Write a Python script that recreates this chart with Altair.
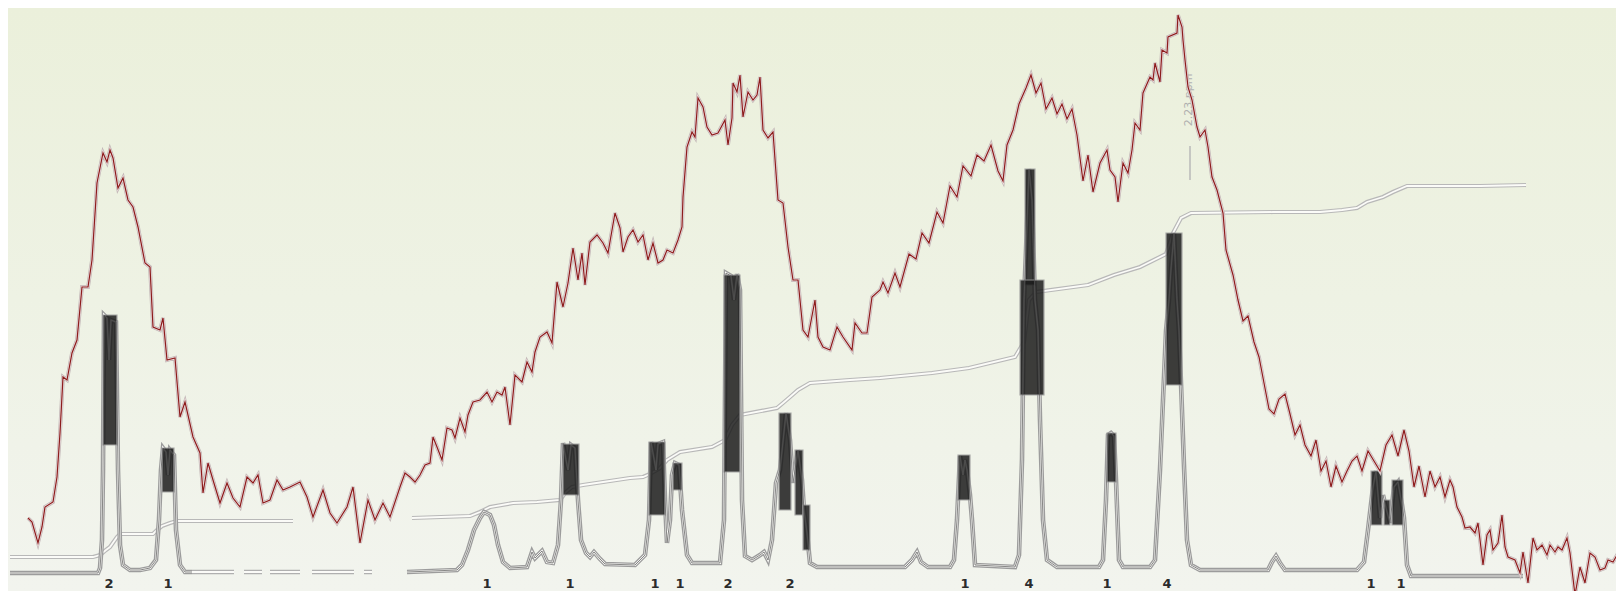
import altair as alt
import pandas as pd

# ---- data (x = column position, y = row position) ----
RED = [(28,518),(32,522),(38,543),(42,527),(45,507),(53,502),(57,477),(60,433),(63,377),(67,380),
       (72,353),(77,340),(82,287),(88,287),(92,260),(97,183),(103,153),(107,162),(110,150),(113,158),
       (118,188),(123,178),(128,200),(133,207),(138,227),(145,263),(150,267),(153,327),(160,330),(163,318),
       (167,360),(175,358),(180,417),(185,402),(193,437),(200,453),(203,493),(208,463),(213,480),(220,503),
       (227,483),(233,498),(240,507),(247,477),(253,483),(258,475),(263,503),(270,500),(277,480),(283,490),
       (290,487),(300,482),(307,497),(313,517),(323,490),(330,513),(337,523),(347,507),(353,487),(360,543),
       (368,500),(375,520),(383,503),(390,517),(400,487),(405,473),(410,477),(415,482),(420,475),(425,465),
       (430,463),(433,437),(437,447),(442,460),(447,428),(452,430),(455,438),(460,418),(465,432),(468,415),
       (473,402),(480,400),(487,392),(492,402),(497,392),(502,395),(505,387),(510,425),(515,375),(522,382),
       (527,362),(532,372),(535,352),(540,337),(547,332),(552,343),(557,282),(563,307),(568,283),(573,248),
       (578,280),(582,253),(585,285),(590,242),(597,235),(603,243),(608,253),(615,213),(620,228),(623,252),
       (628,237),(633,230),(638,242),(643,235),(648,260),(653,243),(658,263),(663,260),(667,250),(673,253),
       (678,240),(682,227),(683,197),(687,147),(692,132),(695,137),(698,98),(703,107),(707,127),(712,135),
       (718,133),(725,120),(728,145),(732,118),(733,83),(737,92),(740,75),(743,117),(748,92),(753,100),
       (757,95),(760,77),(763,130),(768,138),(773,132),(778,200),(783,203),(788,247),(793,280),(798,280),
       (803,330),(808,337),(815,300),(818,337),(823,347),(830,350),(837,327),(843,337),(852,350),(855,323),
       (862,333),(867,333),(872,297),(880,290),(883,282),(888,293),(895,273),(900,287),(909,254),(916,259),
       (922,233),(929,243),(937,212),(943,223),(950,186),(957,197),(963,166),(971,176),(977,155),(984,161),
       (991,145),(998,171),(1003,181),(1007,145),(1013,130),(1019,104),(1026,88),(1031,75),(1036,93),(1041,83),
       (1046,109),(1052,98),(1057,114),(1062,104),(1067,119),(1072,109),(1077,135),(1083,181),(1088,155),(1093,192),
       (1100,163),(1107,150),(1110,170),(1115,177),(1118,202),(1123,163),(1128,173),(1132,150),(1135,123),(1140,130),
       (1143,93),(1150,77),(1153,80),(1155,63),(1160,82),(1162,50),(1167,53),(1168,37),(1177,33),(1178,15),
       (1182,27),(1183,40),(1185,60),(1188,87),(1192,100),(1197,127),(1200,137),(1205,130),(1208,147),(1212,177),
       (1217,190),(1223,213),(1226,250),(1233,275),(1238,300),(1243,321),(1248,316),(1254,342),(1259,357),(1264,383),
       (1269,409),(1274,414),(1279,399),(1285,394),(1290,414),(1295,435),(1300,425),(1305,445),(1311,456),(1316,440),
       (1321,471),(1326,461),(1331,487),(1336,466),(1342,482),(1347,471),(1352,461),(1357,456),(1362,471),(1368,451),
       (1374,461),(1380,471),(1386,445),(1392,435),(1398,456),(1404,430),(1409,451),(1414,487),(1419,466),(1425,497),
       (1430,471),(1435,487),(1440,477),(1445,497),(1450,480),(1453,487),(1457,507),(1462,517),(1465,528),(1470,527),
       (1475,533),(1478,523),(1483,565),(1487,535),(1490,530),(1493,550),(1498,543),(1502,515),(1505,547),(1508,557),
       (1515,560),(1520,573),(1523,552),(1528,583),(1533,538),(1537,550),(1542,545),(1547,555),(1550,545),(1555,552),
       (1558,547),(1562,550),(1567,538),(1570,553),(1575,595),(1580,567),(1585,583),(1590,553),(1595,557),(1600,570),
       (1605,568),(1608,560),(1613,562),(1620,550),(1623,557)]

SPEC_LEFT = [(10,573),(98,573),(100,568),(102,540),(103,470),(104,315),(107,318),(109,360),(111,320),
             (116,322),(118,470),(120,545),(123,565),(130,570),(140,570),(150,568),(156,560),(159,520),
             (161,470),(163,448),(166,452),(168,475),(170,450),(174,455),(176,530),(180,565),(185,572),(192,572)]

SPEC_DASH = [(192,572),(372,572)]

SPEC_MID = [(407,572),(457,570),(462,565),(468,550),(474,530),(480,518),(484,512),(490,515),(494,525),
            (498,545),(503,562),(510,568),(527,567),(532,552),(535,558),(537,556),(542,551),(547,562),
            (553,563),(558,545),(561,500),(563,443),(566,460),(568,470),(571,445),(575,448),(578,500),
            (581,540),(586,553),(590,557),(594,552),(600,559),(605,564),(635,565),(645,555),(649,520),
            (651,442),(656,470),(658,444),(663,442),(665,500),(667,543),(670,520),(672,475),(675,463),
            (679,465),(682,510),(687,555),(692,563),(720,563),(724,520),(726,273),(731,276),(734,300),
            (737,274),(740,290),(742,500),(745,556),(752,560),(760,555),(764,552),(768,560),(772,540),
            (776,483),(780,470),(786,413),(790,440),(793,483),(798,450),(802,480),(804,510),(807,533),
            (810,563),(817,567),(880,567)]

SPEC_RIGHT = [(880,567),(905,567),(912,560),(917,552),(921,562),(928,567),(950,567),(954,560),(957,520),
              (960,456),(963,475),(965,460),(967,470),(970,495),(972,520),(975,565),(1015,567),(1019,555),
              (1022,460),(1024,300),(1026,250),(1029,169),(1032,200),(1035,300),(1038,330),(1040,420),
              (1043,520),(1047,560),(1057,567),(1099,567),(1103,560),(1106,500),(1108,435),(1111,433),
              (1114,436),(1116,480),(1119,560),(1123,567),(1150,567),(1155,560),(1160,470),(1163,400),
              (1166,331),(1169,300),(1171,269),(1174,233),(1177,300),(1179,331),(1181,383),(1184,466),
              (1187,540),(1191,565),(1200,570),(1268,570),(1272,562),(1276,556),(1280,563),(1285,570),
              (1357,570),(1364,562),(1368,530),(1373,487),(1376,471),(1380,518),(1383,495),(1386,508),
              (1390,523),(1394,487),(1398,482),(1402,505),(1404,518),(1407,565),(1411,576),(1523,576)]

INT_A = [(10,557),(93,557),(100,555),(106,550),(110,547),(117,537),(120,534),(153,534),(157,530),
         (162,526),(170,523),(177,521),(293,521)]

INT_B = [(412,518),(470,516),(480,512),(490,507),(513,503),(537,502),(560,500),(566,492),(572,487),
         (583,485),(630,478),(643,477),(650,474),(660,468),(667,460),(680,452),(712,447),(725,440),
         (732,425),(740,415),(777,408),(783,403),(790,397),(798,390),(810,383),(850,380),(880,378),
         (932,373),(969,368),(1015,357),(1024,342),(1029,300),(1036,292),(1088,285),(1114,275),
         (1140,267),(1166,254),(1173,233),(1181,218),(1191,213),(1273,212),(1320,212),(1342,210),
         (1357,208),(1367,202),(1383,197),(1393,192),(1407,186),(1480,186),(1526,185)]

# dark cores of the tall peaks: x from, x to, top row, bottom row
CORE_X1 = [103, 162, 563, 649, 673, 724, 779, 795, 803, 958, 1025, 1020, 1107, 1166, 1371, 1384, 1392]
CORE_X2 = [117, 174, 579, 665, 682, 740, 791, 803, 810, 970, 1035, 1044, 1116, 1182, 1382, 1390, 1403]
CORE_TOP = [315, 448, 444, 442, 463, 275, 413, 450, 505, 455, 169, 280, 433, 233, 471, 500, 480]
CORE_BOT = [445, 492, 495, 515, 490, 472, 510, 515, 550, 500, 285, 395, 482, 385, 525, 525, 525]

LABEL_X = [109, 168, 487, 570, 655, 680, 728, 790, 965, 1029, 1107, 1167, 1371, 1401]
LABEL_TEXT = ["2", "1", "1", "1", "1", "1", "2", "2", "1", "4", "1", "4", "1", "1"]
LABEL_ROW = 584

PEAK_NOTE = "2.23 ppm"
PEAK_NOTE_X = 1189
PEAK_NOTE_ROW = 100
PEAK_TICK = [(1190, 146, 180)]

W, H = 1608, 583


def frame(pairs, name):
    return pd.DataFrame({"x": [p[0] for p in pairs], "y": [p[1] for p in pairs],
                         "o": list(range(len(pairs))), "s": name})


xs = alt.Scale(domain=[8, 1616], nice=False, zero=False)
ys = alt.Scale(domain=[8, 591], nice=False, zero=False, reverse=True)
X = alt.X("x:Q", scale=xs, axis=None)
Y = alt.Y("y:Q", scale=ys, axis=None)

red = frame(RED, "red")
spec = pd.concat([frame(SPEC_LEFT, "a"), frame(SPEC_MID, "b"), frame(SPEC_RIGHT, "c")])
dash = frame(SPEC_DASH, "d")
integ = pd.concat([frame(INT_A, "a"), frame(INT_B, "b")])

bg = alt.Chart(pd.DataFrame({"k": [0]})).mark_rect(
    fill=alt.Gradient(gradient="linear",
                      stops=[alt.GradientStop(color="#EBF0DB", offset=0),
                             alt.GradientStop(color="#EEF2E4", offset=0.5),
                             alt.GradientStop(color="#F2F4EE", offset=1)],
                      x1=0, x2=0, y1=0, y2=1)
).encode(x=alt.value(0), x2=alt.value(W), y=alt.value(0), y2=alt.value(H))


def outlined(df, outer, inner, wo, wi, dashed=None):
    base = alt.Chart(df).encode(x=X, y=Y, order="o:Q", detail="s:N")
    kw = {"strokeDash": dashed} if dashed else {}
    return [base.mark_line(color=outer, strokeWidth=wo, clip=True, **kw),
            base.mark_line(color=inner, strokeWidth=wi, clip=True, **kw)]


integ_layers = outlined(integ, "#b8b8b8", "#fbfbf8", 4.2, 1.8)
spec_layers = outlined(spec, "#9c9c9c", "#fbfbf8", 4.6, 2.0)
dash_layers = outlined(dash, "#b0b0b0", "#fbfbf8", 4.4, 2.0, dashed=[42, 10, 18, 8, 30, 12])

cores = alt.Chart(pd.DataFrame({"x": CORE_X1, "x2": CORE_X2, "y": CORE_TOP, "y2": CORE_BOT})).mark_rect(
    color="#1a1a1a", opacity=0.84, stroke="#9a9a9a", strokeWidth=1.2
).encode(x=X, x2="x2:Q", y=Y, y2="y2:Q")

spec_core = alt.Chart(spec).mark_line(color="#555555", strokeWidth=0.7, clip=True).encode(
    x=X, y=Y, order="o:Q", detail="s:N")

red_base = alt.Chart(red).encode(x=X, y=Y, order="o:Q")
red_layers = [red_base.mark_line(color="#c2b6b6", strokeWidth=3.8, clip=True),
              red_base.mark_line(color="#eddcdc", strokeWidth=2.4, clip=True),
              red_base.mark_line(color="#8c1c1c", strokeWidth=1.2, clip=True)]

labels = alt.Chart(pd.DataFrame({"x": LABEL_X, "t": LABEL_TEXT, "y": [LABEL_ROW] * len(LABEL_X)})).mark_text(
    font="DejaVu Sans", fontSize=13, fontWeight="bold", color="#2b2b2b", baseline="middle", align="center"
).encode(x=X, y=Y, text="t:N")

note = alt.Chart(pd.DataFrame({"x": [PEAK_NOTE_X], "y": [PEAK_NOTE_ROW], "t": [PEAK_NOTE]})).mark_text(
    font="DejaVu Sans", fontSize=11, color="#b0b0b0", angle=270, baseline="middle", align="center"
).encode(x=X, y=Y, text="t:N")

tick = alt.Chart(pd.DataFrame({"x": [t[0] for t in PEAK_TICK], "y": [t[1] for t in PEAK_TICK],
                               "y2": [t[2] for t in PEAK_TICK]})).mark_rule(
    color="#b8b8b8", strokeWidth=1.5).encode(x=X, y=Y, y2="y2:Q")

chart = alt.layer(bg, *integ_layers, *dash_layers, *spec_layers, cores, spec_core, tick, note,
                  *red_layers, labels).properties(
    width=W, height=H, padding=0
).configure_view(stroke=None).configure(background="#EDF1E0")

chart.save("out.html", embed_options={"renderer": "svg", "actions": False})
